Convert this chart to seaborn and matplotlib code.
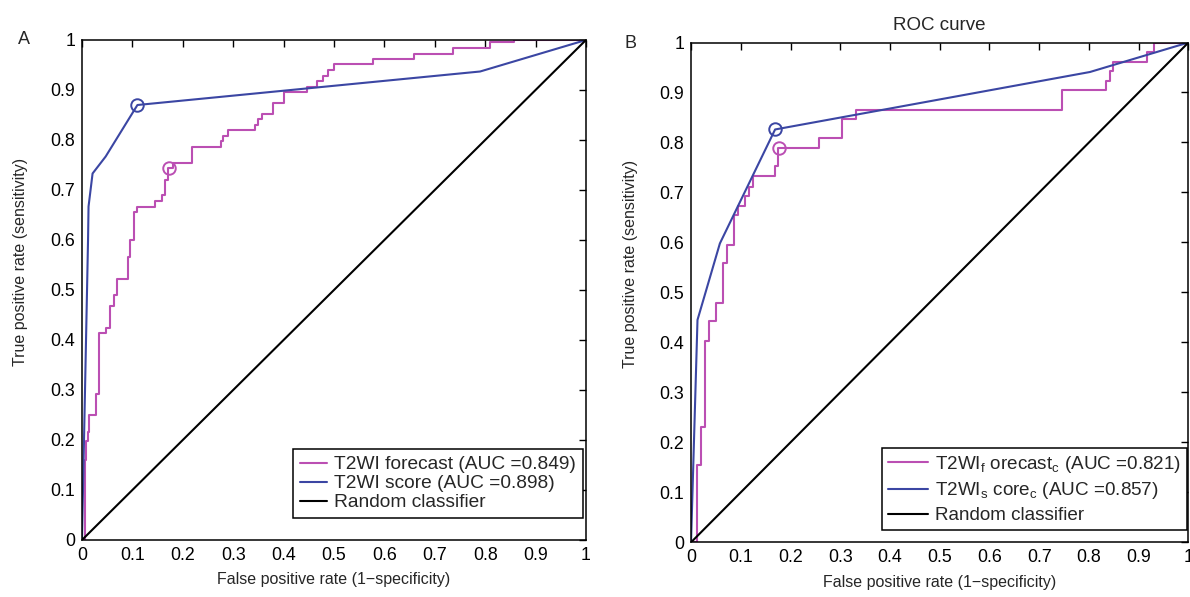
import numpy as np
import pandas as pd
import seaborn as sns
import matplotlib.pyplot as plt

# panel A : step ROC of the forecast, polyline of the score
a_fc_fpr = [0, 0.006, 0.008, 0.011, 0.014, 0.028, 0.034, 0.048, 0.055, 0.063, 0.069,
            0.091, 0.095, 0.104, 0.11, 0.145, 0.159, 0.165, 0.17, 0.181, 0.219,
            0.275, 0.28, 0.289, 0.343, 0.35, 0.357, 0.38, 0.4, 0.447, 0.467, 0.479,
            0.4875, 0.5, 0.578, 0.659, 0.7355, 0.81, 0.858, 1.0]
a_fc_tpr = [0, 0.16, 0.197, 0.215, 0.249, 0.291, 0.413, 0.423, 0.467, 0.489, 0.521,
            0.565, 0.599, 0.655, 0.665, 0.677, 0.689, 0.72, 0.743, 0.753, 0.785,
            0.797, 0.807, 0.819, 0.83, 0.841, 0.852, 0.873, 0.895, 0.905, 0.917, 0.928,
            0.939, 0.951, 0.961, 0.972, 0.983, 0.995, 1.0, 1.0]
a_sc_fpr = [0, 0.012, 0.013, 0.021, 0.047, 0.11, 0.79, 1.0]
a_sc_tpr = [0, 0.6, 0.667, 0.733, 0.767, 0.87, 0.937, 1.0]
a_fc_cut = (0.1726, 0.743)
a_sc_cut = (0.11, 0.87)

# panel B
b_fc_fpr = [0, 0.0127, 0.0207, 0.028, 0.036, 0.05, 0.065, 0.0717, 0.087, 0.095,
            0.1085, 0.1166, 0.124, 0.169, 0.175, 0.258, 0.303, 0.331, 0.746, 0.835,
            0.842, 0.849, 0.916, 0.931, 1.0]
b_fc_tpr = [0, 0.155, 0.23, 0.403, 0.443, 0.479, 0.558, 0.595, 0.655, 0.673,
            0.693, 0.711, 0.733, 0.753, 0.788, 0.808, 0.846, 0.865, 0.905, 0.923,
            0.943, 0.961, 0.981, 1.0, 1.0]
b_sc_fpr = [0, 0.013, 0.058, 0.169, 0.802, 1.0]
b_sc_tpr = [0, 0.445, 0.598, 0.826, 0.941, 1.0]
b_fc_cut = (0.177, 0.788)
b_sc_cut = (0.169, 0.826)

chance = [0, 1]

labels_a = ["T2WI forecast (AUC =0.849)", "T2WI score (AUC =0.898)", "Random classifier"]
labels_b = [r"T2WI$_\mathregular{f}$ orecast$_\mathregular{c}$ (AUC =0.821)",
            r"T2WI$_\mathregular{s}$ core$_\mathregular{c}$ (AUC =0.857)",
            "Random classifier"]
ticks = np.round(np.arange(0, 1.01, 0.1), 1)
tick_labels = ["0"] + [f"{t:.1f}" for t in ticks[1:-1]] + ["1"]

MAG = "#BB4FB3"
BLU = "#3B46A3"

sns.set_style("white")
plt.rcParams['font.family'] = ['Liberation Sans', 'DejaVu Sans']
plt.rcParams['mathtext.fontset'] = 'custom'
plt.rcParams['mathtext.rm'] = 'Liberation Sans'

fig = plt.figure(figsize=(11.9, 5.97), dpi=100)
axA = fig.add_axes([0.0689, 0.0955, 0.4235, 0.8375])
axB = fig.add_axes([0.5807, 0.0916, 0.4180, 0.8372])


def draw(ax, fc_x, fc_y, sc_x, sc_y, fc_cut, sc_cut, labels):
    sns.lineplot(x=fc_x, y=fc_y, drawstyle="steps-post", color=MAG, lw=1.5,
                 sort=False, estimator=None, label=labels[0], ax=ax)
    sns.lineplot(x=sc_x, y=sc_y, color=BLU, lw=1.5, sort=False, estimator=None,
                 label=labels[1], ax=ax)
    sns.lineplot(x=chance, y=chance, color="black", lw=1.5, sort=False,
                 estimator=None, label=labels[2], ax=ax)
    for (cx, cy), c in [(fc_cut, MAG), (sc_cut, BLU)]:
        ax.plot([cx], [cy], marker="o", ms=9, mfc="none", mec=c, mew=1.4)
    ax.set_xlim(0, 1)
    ax.set_ylim(0, 1)
    ax.set_xticks(ticks)
    ax.set_xticklabels(tick_labels)
    ax.set_yticks(ticks)
    ax.set_yticklabels(tick_labels)
    ax.tick_params(direction="in", length=5, width=1, top=True, right=True,
                   labelsize=12.8, colors="black", pad=5)
    for s in ax.spines.values():
        s.set_color("black")
        s.set_linewidth(1.1)
    ax.set_xlabel("False positive rate (1\u2212specificity)", fontsize=11.5, labelpad=6)
    ax.set_ylabel("True positive rate (sensitivity)", fontsize=11.5)
    # label sits a bit above the middle, as in the original
    ax.yaxis.set_label_coords(-0.107, 0.557)


draw(axA, a_fc_fpr, a_fc_tpr, a_sc_fpr, a_sc_tpr, a_fc_cut, a_sc_cut, labels_a)
draw(axB, b_fc_fpr, b_fc_tpr, b_sc_fpr, b_sc_tpr, b_fc_cut, b_sc_cut, labels_b)

legA = axA.legend(loc="lower right", bbox_to_anchor=(0.994, 0.044), fontsize=13.8,
                  frameon=True, fancybox=False, framealpha=1, edgecolor="black",
                  handlelength=1.4, handletextpad=0.4, labelspacing=0.08,
                  borderpad=0.35, borderaxespad=0)
legA.get_frame().set_linewidth(1.1)
legB = axB.legend(loc="lower right", bbox_to_anchor=(0.997, 0.025), fontsize=13.6,
                  frameon=True, fancybox=False, framealpha=1, edgecolor="black",
                  handlelength=2.1, handletextpad=0.4, labelspacing=0.3,
                  borderpad=0.3, borderaxespad=0)
legB.get_frame().set_linewidth(1.1)

axB.set_title("ROC curve", fontsize=13.5, pad=9)
fig.text(18 / 1190, 1 - 40 / 597, "A", fontsize=13, va="center")
fig.text(624 / 1190, 1 - 43 / 597, "B", fontsize=13, va="center")

fig.savefig("out.png", dpi=100)
